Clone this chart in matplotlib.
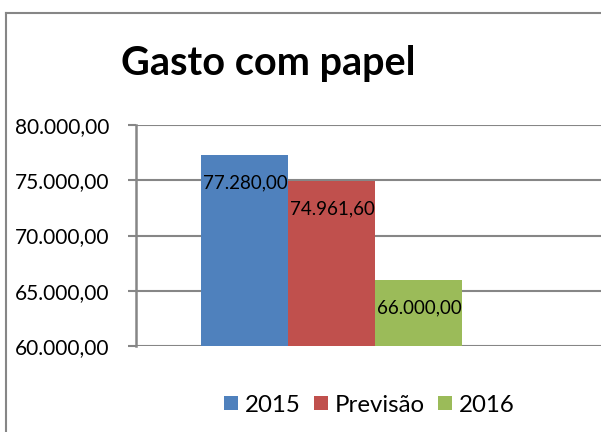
import matplotlib
matplotlib.use("Agg")
import matplotlib.pyplot as plt
from matplotlib.lines import Line2D
from matplotlib.patches import Patch
from matplotlib.ticker import FuncFormatter

series = ["2015", "Previsão", "2016"]
values = [77280.00, 74961.60, 66000.00]
colors = ["#4F81BD", "#C0504D", "#9BBB59"]
yticks = [60000, 65000, 70000, 75000, 80000]
title = "Gasto com papel"

FONT = ["Lato", "DejaVu Sans"]
plt.rcParams['font.family'] = FONT

W, H, DPI = 601, 432, 100
fig = plt.figure(figsize=(W / DPI, H / DPI), dpi=DPI)
PX = 72 / DPI  # points per pixel

def br(v):
    s = f"{v:,.2f}"
    return s.replace(",", "X").replace(".", ",").replace("X", ".")

ax_l, ax_r = 136, 601
ax_t, ax_b = 125, 346
ax = fig.add_axes([ax_l / W, 1 - ax_b / H, (ax_r - ax_l) / W, (ax_b - ax_t) / H])

bar_w_px = 87.0
center_px = 331.5
xs = [-1, 0, 1]
ax.bar(xs, values, width=1.0, color=colors, zorder=3)
ax.set_ylim(60000, 80000)
ax.set_xlim(-(center_px - ax_l) / bar_w_px, (ax_r - center_px) / bar_w_px)

for x, v in zip(xs, values):
    ax.annotate(br(v), xy=(x, v), xytext=(1 * PX, -28 * PX), textcoords="offset points",
                ha="center", va="center", fontsize=13.5, color="black", zorder=4)

ax.set_yticks(yticks)
ax.yaxis.set_major_formatter(FuncFormatter(lambda v, p: br(v)))
ax.tick_params(axis="y", length=8 * PX, width=1.5, color="#868686", pad=20 * PX - 1,
               labelsize=15.0)
ax.set_xticks([])
ax.grid(axis="y", color="#868686", linewidth=1.5, zorder=0)
for s in ["top", "right", "bottom"]:
    ax.spines[s].set_visible(False)
ax.spines["left"].set_color("#868686")
ax.spines["left"].set_linewidth(1.8)
ax.set_facecolor("none")

fig.text(268 / W, 1 - 63 / H, title, ha="center", va="center", fontsize=28.5,
         fontweight="bold")

handles = [Patch(facecolor=c, edgecolor="none") for c in colors]
fig.legend(handles, series, loc="center", bbox_to_anchor=(369.5 / W, 1 - 405 / H),
           ncol=3, frameon=False, fontsize=17.3, handlelength=0.58, handleheight=0.58,
           handletextpad=0.28, columnspacing=0.56, borderpad=0, borderaxespad=0)

fig.add_artist(Line2D([6 / W, 6 / W], [0, 1 - 13 / H], transform=fig.transFigure,
                      color="#868686", linewidth=1.5))
fig.add_artist(Line2D([6 / W, 1], [1 - 13 / H, 1 - 13 / H], transform=fig.transFigure,
                      color="#868686", linewidth=1.5))

fig.savefig("out.png", dpi=DPI)
